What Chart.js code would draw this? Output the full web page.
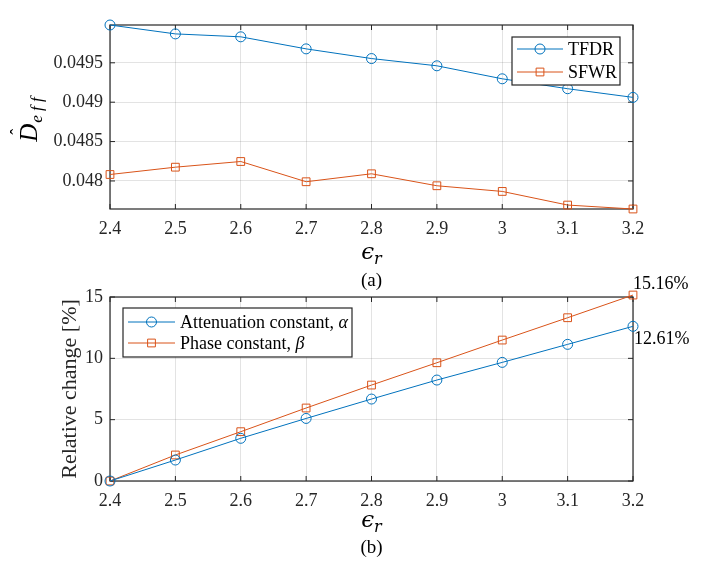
<!DOCTYPE html>
<html>
<head>
<meta charset="utf-8">
<script src="https://cdn.jsdelivr.net/npm/chart.js@4.4.0/dist/chart.umd.min.js"></script>
<style>
  body { margin: 0; background: #fff; width: 711px; height: 580px; position: relative; overflow: hidden; }
  canvas { position: absolute; left: 0; }
  #chartA { top: 0; }
  #chartB { top: 270px; }
</style>
</head>
<body>
<canvas id="chartA" width="711" height="300"></canvas>
<canvas id="chartB" width="711" height="310"></canvas>
<script>
// relative permittivity sweep
const epsR = [2.4, 2.5, 2.6, 2.7, 2.8, 2.9, 3.0, 3.1, 3.2];
const xTicks = [2.4, 2.5, 2.6, 2.7, 2.8, 2.9, 3.0, 3.1, 3.2];

// (a) effective D
const tfdr = [0.04998, 0.049867, 0.04983, 0.049677, 0.049554, 0.049462, 0.049297, 0.049171, 0.049061];
const sfwr = [0.048082, 0.048175, 0.048247, 0.04799, 0.048091, 0.047939, 0.047867, 0.047694, 0.047644];
const yTicksA = [0.048, 0.0485, 0.049, 0.0495];

// (b) relative change in %
const alphaChange = [0, 1.71, 3.48, 5.1, 6.68, 8.23, 9.67, 11.14, 12.61];
const betaChange = [0, 2.12, 4.02, 5.95, 7.82, 9.64, 11.49, 13.31, 15.16];
const yTicksB = [0, 5, 10, 15];

const FONT = '"Liberation Serif", "Times New Roman", serif';
const AX = '#262626';
const BLUE = '#0072BD';
const ORANGE = '#D95319';

const pts = (ys) => epsR.map((x, i) => ({ x, y: ys[i] }));
const fmtX = (v) => String(parseFloat(v.toFixed(1)));

// epsilon_r label
function drawEps(ctx, cx, cy) {
  ctx.font = 'italic 23px "DejaVu Serif", serif';
  const w1 = ctx.measureText('\u03F5').width;
  ctx.font = 'italic 16px "DejaVu Serif", serif';
  const w2 = ctx.measureText('r').width;
  const x0 = cx - (w1 + w2) / 2;
  ctx.textAlign = 'left';
  ctx.textBaseline = 'middle';
  ctx.font = 'italic 23px "DejaVu Serif", serif';
  ctx.fillText('\u03F5', x0, cy - 2);
  ctx.font = 'italic 16px "DejaVu Serif", serif';
  ctx.fillText('r', x0 + w1, cy + 5);
}

// D-hat_eff label (rotated)
function drawDeff(ctx, cx, cy) {
  ctx.save();
  ctx.translate(cx, cy);
  ctx.rotate(-Math.PI / 2);
  ctx.font = 'italic 25px ' + FONT;
  const w1 = ctx.measureText('D').width;
  ctx.font = 'italic 17px ' + FONT;
  const w2 = ctx.measureText('e f f').width;
  const x0 = -(w1 + w2) / 2;
  ctx.textAlign = 'left';
  ctx.textBaseline = 'middle';
  ctx.font = 'italic 25px ' + FONT;
  ctx.fillText('D', x0, -3);
  ctx.font = '18px ' + FONT;
  ctx.textAlign = 'center';
  ctx.fillText('\u02C6', x0 + w1 / 2 + 1, -15);
  ctx.textAlign = 'left';
  ctx.font = 'italic 17px ' + FONT;
  ctx.fillText('e f f', x0 + w1 + 1, 5);
  ctx.restore();
}

// legend text, with a trailing Greek symbol in italics
function drawLabel(ctx, text, x, y) {
  const m = text.match(/^(.*, )([\u0370-\u03FF])$/);
  ctx.font = '18px ' + FONT;
  if (!m) { ctx.fillText(text, x, y); return; }
  ctx.fillText(m[1], x, y);
  const w = ctx.measureText(m[1]).width;
  ctx.font = 'italic 18px ' + FONT;
  ctx.fillText(m[2], x + w, y);
}

const frame = {
  id: 'frame',
  beforeDatasetsDraw(chart) {
    const { ctx, chartArea: a, scales: { x, y } } = chart;
    ctx.save();
    ctx.strokeStyle = AX;
    ctx.lineWidth = 1;
    ctx.beginPath();
    x.ticks.forEach(t => {
      const px = x.getPixelForValue(t.value);
      ctx.moveTo(px, a.bottom); ctx.lineTo(px, a.bottom - 5);
      ctx.moveTo(px, a.top); ctx.lineTo(px, a.top + 5);
    });
    y.ticks.forEach(t => {
      const py = y.getPixelForValue(t.value);
      ctx.moveTo(a.left, py); ctx.lineTo(a.left + 5, py);
      ctx.moveTo(a.right, py); ctx.lineTo(a.right - 5, py);
    });
    ctx.stroke();
    ctx.lineWidth = 1.2;
    ctx.strokeRect(a.left, a.top, a.right - a.left, a.bottom - a.top);
    ctx.restore();
  },
  afterDraw(chart, args, opts) {
    const { ctx, chartArea: a, scales: { x, y } } = chart;
    ctx.save();

    // legend box
    const L = opts.legend;
    ctx.fillStyle = '#fff';
    ctx.fillRect(L.x, L.y, L.w, L.h);
    ctx.strokeStyle = AX;
    ctx.lineWidth = 1.2;
    ctx.strokeRect(L.x, L.y, L.w, L.h);
    chart.data.datasets.forEach((ds, i) => {
      const ry = L.rows[i];
      ctx.strokeStyle = ds.borderColor;
      ctx.lineWidth = 1;
      ctx.beginPath();
      ctx.moveTo(L.x0, ry); ctx.lineTo(L.x1, ry);
      ctx.stroke();
      ctx.fillStyle = 'rgba(0,0,0,0)';
      Chart.helpers.drawPoint(ctx, { pointStyle: ds.pointStyle, radius: ds.pointRadius, borderWidth: 1, rotation: 0 }, (L.x0 + L.x1) / 2, ry);
      ctx.fillStyle = '#000';
      ctx.textAlign = 'left';
      ctx.textBaseline = 'middle';
      drawLabel(ctx, ds.label, L.tx, ry + 1);
    });

    // axis titles and caption
    ctx.fillStyle = '#000';
    const cx = (a.left + a.right) / 2;
    drawEps(ctx, cx, opts.xTitleY);
    ctx.font = '19px ' + FONT;
    ctx.textAlign = 'center';
    ctx.textBaseline = 'middle';
    ctx.fillText(opts.caption, cx, opts.captionY);

    if (opts.yTitle === 'deff') {
      drawDeff(ctx, opts.yTitleX, opts.yTitleY);
    } else {
      ctx.save();
      ctx.translate(opts.yTitleX, (a.top + a.bottom) / 2);
      ctx.rotate(-Math.PI / 2);
      ctx.font = '22px ' + FONT;
      ctx.fillStyle = '#262626';
      ctx.fillText(opts.yTitle, 0, 0);
      ctx.restore();
    }

    // end-point labels
    if (opts.endLabels) {
      ctx.font = '18px ' + FONT;
      ctx.textAlign = 'left';
      ctx.textBaseline = 'alphabetic';
      ctx.fillStyle = '#000';
      const lastX = epsR[epsR.length - 1];
      const bVal = betaChange[betaChange.length - 1];
      const aVal = alphaChange[alphaChange.length - 1];
      ctx.fillText(bVal.toFixed(2) + '%', x.getPixelForValue(lastX), y.getPixelForValue(bVal) - 6);
      ctx.fillText(aVal.toFixed(2) + '%', x.getPixelForValue(lastX) + 1, y.getPixelForValue(aVal) + 18);
    }
    ctx.restore();
  }
};

function makeScales(yMin, yMax, yTicks, yFmt, xHeight) {
  return {
    x: {
      type: 'linear', min: 2.4, max: 3.2,
      afterBuildTicks: s => { s.ticks = xTicks.map(v => ({ value: v })); },
      afterFit: s => { s.height = xHeight; },
      grid: { color: 'rgba(38,38,38,0.13)', drawTicks: false },
      border: { display: false },
      ticks: { color: AX, font: { family: FONT, size: 18 }, padding: 9, maxRotation: 0, callback: v => fmtX(v) }
    },
    y: {
      min: yMin, max: yMax,
      afterBuildTicks: s => { s.ticks = yTicks.map(v => ({ value: v })); },
      afterFit: s => { s.width = 110; },
      grid: { color: 'rgba(38,38,38,0.13)', drawTicks: false },
      border: { display: false },
      ticks: { color: AX, font: { family: FONT, size: 18 }, padding: 7, callback: yFmt }
    }
  };
}

const lineDs = (label, data, color, style, r) => ({
  label, data,
  borderColor: color, borderWidth: 1,
  pointStyle: style, pointRadius: r, pointBorderColor: color,
  pointBackgroundColor: 'rgba(0,0,0,0)', pointBorderWidth: 1,
  tension: 0, clip: false
});

new Chart(document.getElementById('chartA').getContext('2d'), {
  type: 'line',
  data: {
    datasets: [
      lineDs('TFDR', pts(tfdr), BLUE, 'circle', 5),
      lineDs('SFWR', pts(sfwr), ORANGE, 'rect', 5.5)
    ]
  },
  options: {
    responsive: false, animation: false,
    layout: { padding: { left: 0, top: 25, right: 78, bottom: 0 } },
    scales: makeScales(0.047644, 0.04998, yTicksA, v => String(v), 91),
    plugins: {
      legend: { display: false }, tooltip: { enabled: false },
      frame: {
        legend: { x: 512, y: 37, w: 108, h: 48, rows: [49, 72], x0: 517, x1: 563, tx: 568 },
        xTitleY: 255, caption: '(a)', captionY: 281, yTitle: 'deff', yTitleX: 33, yTitleY: 120
      }
    }
  },
  plugins: [frame]
});

new Chart(document.getElementById('chartB').getContext('2d'), {
  type: 'line',
  data: {
    datasets: [
      lineDs('Attenuation constant, \u03B1', pts(alphaChange), BLUE, 'circle', 5),
      lineDs('Phase constant, \u03B2', pts(betaChange), ORANGE, 'rect', 5.5)
    ]
  },
  options: {
    responsive: false, animation: false,
    layout: { padding: { left: 0, top: 27, right: 78, bottom: 0 } },
    scales: makeScales(0, 15, yTicksB, v => String(v), 99),
    plugins: {
      legend: { display: false }, tooltip: { enabled: false },
      frame: {
        legend: { x: 123, y: 38, w: 229, h: 49, rows: [52, 73], x0: 128, x1: 175, tx: 180 },
        xTitleY: 253, caption: '(b)', captionY: 278, yTitle: 'Relative change [%]', yTitleX: 70,
        endLabels: true
      }
    }
  },
  plugins: [frame]
});
</script>
</body>
</html>
